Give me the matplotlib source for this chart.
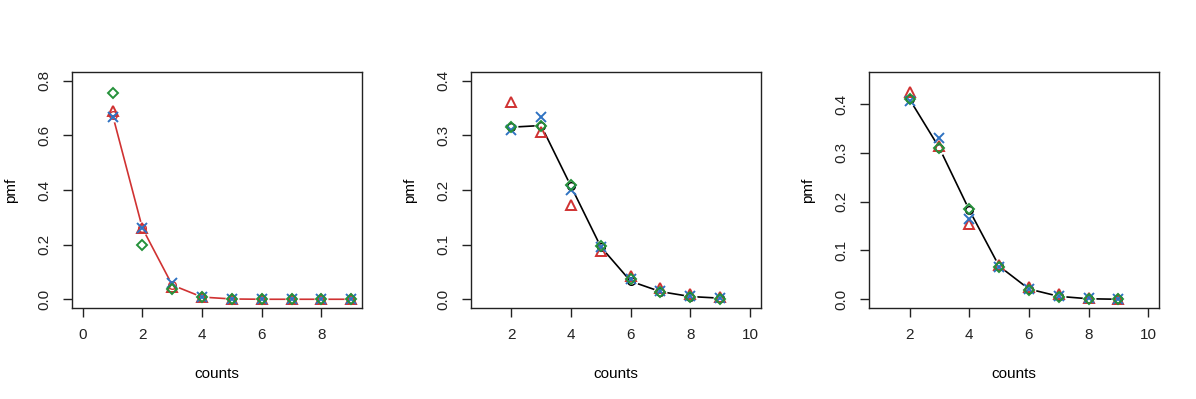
import numpy as np
import matplotlib
matplotlib.use("Agg")
import matplotlib.pyplot as plt

plt.rcParams['font.family'] = ['Liberation Sans', 'DejaVu Sans']

# panel 1: counts 1..9
x1 = [1, 2, 3, 4, 5, 6, 7, 8, 9]
line1 = [0.675, 0.26, 0.052, 0.008, 0.001, 0.0, 0.0, 0.0, 0.0]
tri1 = [0.688, 0.26, 0.045, 0.01, 0.001, 0.0, 0.0, 0.0, 0.0]
cross1 = [0.668, 0.262, 0.06, 0.01, 0.001, 0.0, 0.0, 0.0, 0.0]
diam1 = [0.755, 0.197, 0.038, 0.007, 0.0, 0.0, 0.0, 0.0, 0.0]

# panel 2: counts 2..9
x2 = [2, 3, 4, 5, 6, 7, 8, 9]
line2 = [0.315, 0.318, 0.207, 0.096, 0.033, 0.014, 0.005, 0.002]
tri2 = [0.361, 0.307, 0.172, 0.088, 0.042, 0.021, 0.010, 0.005]
cross2 = [0.310, 0.333, 0.200, 0.096, 0.038, 0.016, 0.006, 0.002]
diam2 = [0.315, 0.318, 0.210, 0.098, 0.038, 0.013, 0.005, 0.001]

# panel 3: counts 2..9
x3 = [2, 3, 4, 5, 6, 7, 8, 9]
line3 = [0.41, 0.31, 0.183, 0.068, 0.021, 0.006, 0.001, 0.0]
tri3 = [0.425, 0.315, 0.155, 0.070, 0.026, 0.010, 0.003, 0.001]
cross3 = [0.407, 0.330, 0.165, 0.066, 0.022, 0.006, 0.002, 0.0]
diam3 = [0.410, 0.310, 0.185, 0.066, 0.020, 0.005, 0.001, 0.0]

RED = '#D03232'
BLUE = '#2F72C2'
GREEN = '#25913A'

panels = [
    (x1, line1, tri1, cross1, diam1, RED, (0, 9), (0, 0.8), [0, 2, 4, 6, 8], [0, 0.2, 0.4, 0.6, 0.8]),
    (x2, line2, tri2, cross2, diam2, 'black', (1, 10), (0, 0.4), [2, 4, 6, 8, 10], [0, 0.1, 0.2, 0.3, 0.4]),
    (x3, line3, tri3, cross3, diam3, 'black', (1, 10), (0, 0.448), [2, 4, 6, 8, 10], [0, 0.1, 0.2, 0.3, 0.4]),
]

fig = plt.figure(figsize=(11.96, 3.99), dpi=100)
lefts = [72, 470.7, 869]
W, H = 1196, 399

for i, (x, ln, tr, cr, dm, lc, xl, yl, xt, yt) in enumerate(panels):
    ax = fig.add_axes([lefts[i] / W, (H - 308) / H, 290 / W, 236 / H])
    # R type="b": line with gaps around the points
    ax.plot(x, ln, color=lc, lw=1.2, zorder=1)
    ax.plot(x, ln, ls='none', marker='o', ms=10, mfc='white', mec='none', zorder=2)
    ax.plot(x, ln, ls='none', marker='o', ms=5.5, mfc='none', mec=lc, mew=1.0, zorder=3)
    ax.plot(x, tr, ls='none', marker='^', ms=7.5, mfc='none', mec=RED, mew=1.4, zorder=4)
    ax.plot(x, cr, ls='none', marker='x', ms=6.5, color=BLUE, mew=1.4, zorder=5)
    ax.plot(x, dm, ls='none', marker='D', ms=5.5, mfc='none', mec=GREEN, mew=1.4, zorder=6)

    dx = (xl[1] - xl[0]) * 0.04
    dy = (yl[1] - yl[0]) * 0.04
    ax.set_xlim(xl[0] - dx, xl[1] + dx)
    ax.set_ylim(yl[0] - dy, yl[1] + dy)
    ax.set_xticks(xt)
    ax.set_xticklabels([str(v) for v in xt])
    ax.set_yticks(yt)
    ax.set_yticklabels(['%.1f' % v for v in yt], rotation=90, va='center')
    ax.tick_params(direction='out', length=6.5, width=1, labelsize=11, pad=8, colors='#222222')
    for s in ax.spines.values():
        s.set_linewidth(1.0)
        s.set_color('#222222')
    ax.set_xlabel('counts', fontsize=11)
    ax.set_ylabel('pmf', fontsize=11)
    ax.xaxis.set_label_coords(0.5, -0.25)
    ax.yaxis.set_label_coords(-0.185, 0.5)

fig.savefig('out.png', dpi=100)
